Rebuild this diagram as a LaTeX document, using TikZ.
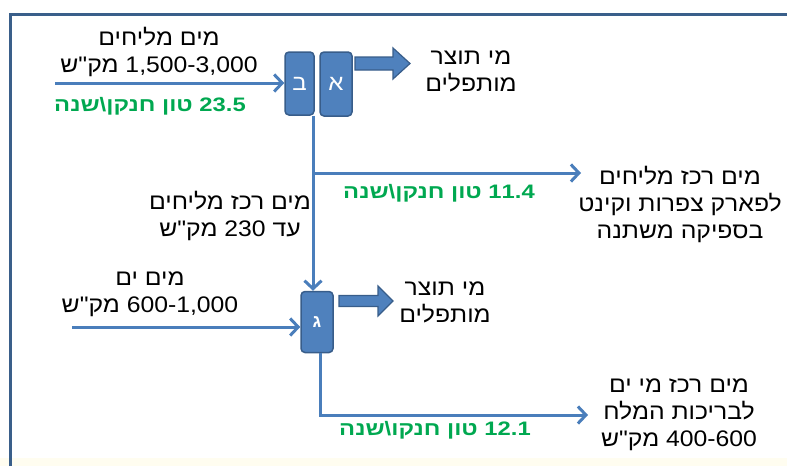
\documentclass[tikz,border=0pt]{standalone}
\usepackage{graphicx}
\usepackage{fontspec}
\setmainfont{Liberation Sans}
\newfontfamily\hebfont[Script=Hebrew]{Liberation Sans}
\TeXXeTstate=1
\usetikzlibrary{arrows.meta}
\definecolor{boxfill}{RGB}{79,129,189}
\definecolor{boxedge}{RGB}{56,93,138}
\definecolor{flowc}{RGB}{74,126,187}
\definecolor{framec}{RGB}{58,95,138}
\definecolor{grn}{RGB}{0,168,80}
\definecolor{cream}{RGB}{255,253,240}
\newcommand\RL[1]{\scalebox{1.1}[1]{\beginR #1\endR}}
\newcommand\GRL[1]{\scalebox{1.22}[1]{\beginR #1\endR}}
\tikzset{
  blk/.style={rounded corners=4pt, fill=boxfill, draw=boxedge, line width=1.5pt,
    text=white, inner sep=0pt, font=\hebfont\fontsize{22}{26}\selectfont},
  bigarrow/.style={fill=boxfill, draw=boxedge, line width=1.2pt, line join=miter},
  flowline/.style={draw=flowc, line width=3pt},
  flowarrow/.style={flowline, -{Straight Barb[length=8pt,width=17pt]}},
  txt/.style={align=center, inner sep=0pt, font=\hebfont\fontsize{22.5}{27}\selectfont},
  gtxt/.style={inner sep=0pt, text=grn, font=\hebfont\bfseries\fontsize{19.5}{22}\selectfont}
}
\begin{document}
\begin{tikzpicture}[x=1pt,y=-1pt]
\useasboundingbox (0,0) rectangle (787,466);
\fill[cream] (0,458) rectangle (787,466);
\draw[framec, line width=3pt] (10,466) -- (10,14.5) -- (787,14.5);

% process boxes
\node[blk, minimum width=29pt, minimum height=63pt] (bet) at (299.5,83.5) {\RL{ב}};
\node[blk, minimum width=32pt, minimum height=64pt] (alef) at (336,84) {\RL{א}};
\node[blk, minimum width=32pt, minimum height=61pt, font=\hebfont\bfseries\fontsize{18}{20}\selectfont] (gimel) at (317,322) {ג};

% block arrows (product water)
\draw[bigarrow] (355,57) -- (393,57) -- (393,48) -- (410,63.5) -- (393,79) -- (393,70) -- (355,70) -- cycle;
\draw[bigarrow] (339,295.5) -- (378,295.5) -- (378,286) -- (393,301) -- (378,316) -- (378,306.5) -- (339,306.5) -- cycle;

% texts
\node[txt] (t1) at (159,52) {\RL{מים מליחים}\\\RL{\beginL 1,500-3,000\endL{} מק"ש}};
\node[gtxt] (g1) at (150,106) {\GRL{\beginL 23.5\endL{} טון חנקן\textbackslash שנה}};
\node[txt] (out1) at (471,71) {\RL{מי תוצר}\\\RL{מותפלים}};
\node[txt] (rt1) at (680,204) {\RL{מים רכז מליחים}\\\RL{לפארק צפרות וקינט}\\\RL{בספיקה משתנה}};
\node[gtxt] (g2) at (439,193) {\GRL{\beginL 11.4\endL{} טון חנקן\textbackslash שנה}};
\node[txt] (lbl) at (230,216) {\RL{מים רכז מליחים}\\\RL{עד \beginL 230\endL{} מק"ש}};
\node[txt] (sea) at (150,294) {\RL{מים ים}\\\RL{\beginL 600-1,000\endL{} מק"ש}};
\node[txt] (out2) at (445,302) {\RL{מי תוצר}\\\RL{מותפלים}};
\node[gtxt] (g3) at (435,430) {\GRL{\beginL 12.1\endL{} טון חנקו\textbackslash שנה}};
\node[txt] (rt2) at (679,415) {\RL{מים רכז מי ים}\\\RL{לבריכות המלח}\\\RL{\beginL 400-600\endL{} מק"ש}};

% flow lines
\coordinate (in1) at (55,83);
\coordinate (split) at (313,173);
\coordinate (e1) at (581,173);
\coordinate (in2) at (72,327);
\coordinate (corner) at (320,415);
\coordinate (e2) at (588,415);

\draw[flowarrow] (in1) -- (in1 -| bet.west);
\draw[flowarrow] (bet.south -| split) -- (split |- gimel.north);
\draw[flowarrow] (split) -- (e1);
\draw[flowarrow] (in2) -- (in2 -| gimel.west);
\draw[flowarrow] (gimel.south -| corner) -- (corner) -- (e2);
\end{tikzpicture}
\end{document}
